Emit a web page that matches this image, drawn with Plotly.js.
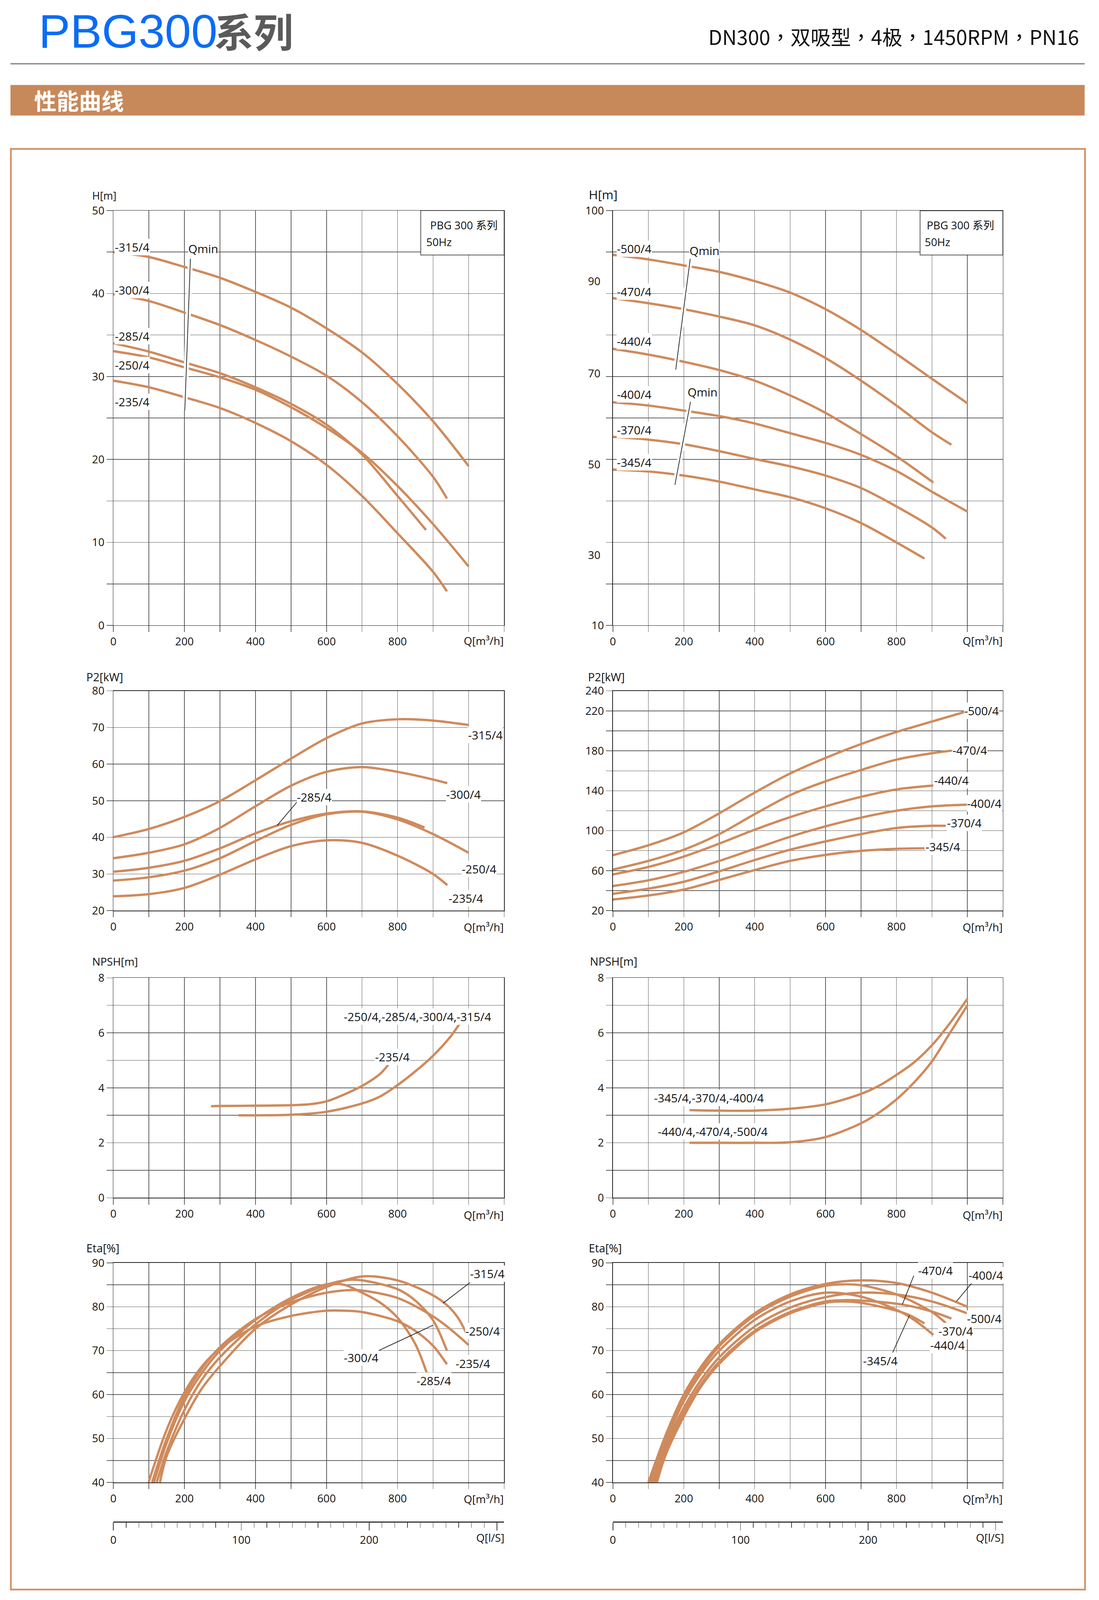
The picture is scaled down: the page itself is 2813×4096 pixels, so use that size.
<!DOCTYPE html>
<html><head><meta charset="utf-8">
<script src="https://cdn.plot.ly/plotly-3.0.1.min.js"></script>
<style>html,body{margin:0;padding:0;background:#fff;}#chart{width:2813px;height:4096px;}</style>
</head><body><div id="chart"></div>
<script>
// ---------------- DATA ----------------
const qTickVals = [0,100,200,300,400,500,600,700,800,900,1000,1100];
const qTickText = ['0','','200','','400','','600','','800','','',''];
const lsTickVals = [0,100,200,300];
const lsTickText = ['0','100','200',''];

const yValsHL = [0,5,10,15,20,25,30,35,40,45,50];
const yTextHL = ['0','','10','','20','','30','','40','','50'];
const yValsHR = [10,19,28,37,46,55,64,73,82,91,100];
const yTextHR = ['10','','','','','','','','','','100'];
const yExtraValsHR = [84.72,64.77,44.99,25.34];
const yExtraTextHR = ['90','70','50','30'];
const yValsPL = [20,30,40,50,60,70,80];
const yTextPL = ['20','30','40','50','60','70','80'];
const yValsPR = [20,40,60,80,100,120,140,160,180,200,220,240];
const yTextPR = ['20','','60','','100','','140','','180','','220','240'];
const yValsN = [0,1,2,3,4,5,6,7,8];
const yTextN = ['0','','2','','4','','6','','8'];
const yValsE = [40,45,50,55,60,65,70,75,80,85,90];
const yTextE = ['40','','50','','60','','70','','80','','90'];

// H left [m]
const hL315_q = [0,100,200,300,400,500,600,700,800,900,1000];
const hL315   = [45.0,44.4,43.2,41.9,40.2,38.3,35.8,32.9,29.1,24.6,19.2];
const hL300_q = [0,100,200,300,400,500,600,700,800,900,939];
const hL300   = [39.9,39.1,37.7,36.2,34.4,32.4,30.1,26.9,22.8,17.9,15.3];
const hL285_q = [0,100,200,300,400,500,600,700,800,880];
const hL285   = [34.0,33.0,31.7,30.4,28.7,26.7,24.2,20.6,15.6,11.5];
const hL250_q = [0,100,200,300,400,500,600,700,800,900,1000];
const hL250   = [33.05,32.3,31.1,29.9,28.4,26.3,23.8,20.8,16.8,12.2,7.1];
const hL235_q = [0,100,200,300,400,500,600,700,800,900,939];
const hL235   = [29.5,28.7,27.5,26.2,24.4,22.2,19.35,15.6,11.1,6.45,4.1];
const qminL_q = [216.8,201]; const qminL_h = [44.19,25.9];

// H right [m]
const hR500_q = [0,100,200,300,400,500,600,700,800,900,1000];
const hR500   = [90.4,89.4,88.1,86.7,84.7,82.2,78.6,74.1,68.9,63.5,58.2];
const hR470_q = [0,100,200,300,400,500,600,700,800,900,955];
const hR470   = [81.0,79.9,78.6,77.0,75.1,72.0,68.0,63.1,57.7,51.9,49.2];
const hR440_q = [0,100,200,300,400,500,600,700,800,904];
const hR440   = [70.0,68.75,67.2,65.4,63.1,59.9,56.1,51.5,46.7,41.0];
const hR400_q = [0,100,200,300,400,500,600,700,800,900,1000];
const hR400   = [58.4,57.7,56.6,55.4,53.8,51.7,49.6,47.0,43.5,39.0,34.7];
const hR370_q = [0,100,200,300,400,500,600,700,800,900,939];
const hR370   = [50.9,50.3,49.3,47.8,46.1,44.5,42.5,39.8,35.8,31.25,28.8];
const hR345_q = [0,100,200,300,400,500,600,700,800,879];
const hR345   = [43.8,43.4,42.5,41.2,39.5,37.8,35.4,32.2,28.0,24.5];
const qminR1_q = [219,177.3]; const qminR1_h = [90.03,65.5];
const qminR2_q = [219,175];   const qminR2_h = [58.5,40.5];

// P2 left [kW]
const pL315_q = [0,100,200,300,400,500,600,700,800,900,1000];
const pL315   = [40.05,42.3,45.6,49.9,55.6,61.5,67.1,71.1,72.25,71.9,70.7];
const pL300_q = [0,100,200,300,400,500,600,700,800,900,940];
const pL300   = [34.3,35.8,38.1,42.6,48.5,54.1,57.9,59.2,57.9,55.8,54.8];
const pL285_q = [0,100,200,300,400,500,600,700,800,876];
const pL285   = [30.6,31.7,33.6,37.0,41.1,44.4,46.5,47.1,45.4,42.7];
const pL250_q = [0,100,200,300,400,500,600,700,800,900,1000];
const pL250   = [28.2,29.1,30.9,34.3,39.0,43.4,46.3,47.0,44.9,40.9,35.8];
const pL235_q = [0,100,200,300,400,500,600,700,800,900,940];
const pL235   = [23.9,24.5,26.2,29.8,34.0,37.6,39.2,38.5,35.0,30.0,26.95];
const lead285_q = [519.7,461.2]; const lead285_p = [50.0,43.26];

// P2 right [kW]
const pR500_q = [0,100,200,300,400,500,600,700,800,900,1000];
const pR500   = [75.5,85.4,98.4,117.4,138.2,157.3,172.9,186.8,198.9,209.3,219.7];
const pR470_q = [0,100,200,300,400,500,600,700,800,900,955];
const pR470   = [61.1,69.75,81.0,96.6,116.6,135.6,149.5,160.8,171.2,177.6,180.2];
const pR440_q = [0,100,200,300,400,500,600,700,800,904];
const pR440   = [56.2,63.7,74.1,87.1,101.0,113.6,124.4,133.9,141.35,145.2];
const pR400_q = [0,100,200,300,400,500,600,700,800,900,1000];
const pR400   = [44.6,50.3,58.8,69.75,81.9,94.0,104.4,113.1,120.0,124.4,126.1];
const pR370_q = [0,100,200,300,400,500,600,700,800,900,939];
const pR370   = [36.8,42.0,48.9,59.35,70.6,81.0,89.3,96.6,102.7,104.9,104.9];
const pR345_q = [0,100,200,300,400,500,600,700,800,879];
const pR345   = [31.1,35.1,41.1,50.7,60.6,69.75,75.8,79.8,81.9,82.4];

// NPSH left [m]
const nL235_q = [275,300,400,500,550,600,650,700,750,774];
const nL235   = [3.33,3.34,3.35,3.37,3.40,3.51,3.76,4.07,4.5,4.84];
const nLbig_q = [352,400,500,600,700,750,800,850,900,950,978];
const nLbig   = [3.0,3.0,3.02,3.13,3.43,3.68,4.1,4.6,5.17,5.88,6.4];
// NPSH right [m]
const nRa_q = [216,300,400,500,600,700,750,800,850,900,950,1000];
const nRa   = [3.19,3.17,3.17,3.24,3.40,3.78,4.07,4.47,4.93,5.55,6.34,7.24];
const nRb_q = [216,300,400,500,600,700,750,800,850,900,950,1000];
const nRb   = [2.0,2.0,2.0,2.02,2.21,2.71,3.09,3.58,4.2,4.96,5.98,7.0];

// Eta left [%]
const eL315_q = [131,150,200,250,300,400,500,600,700,800,900,940,970,1000];
const eL315   = [40,46,54.5,61.5,66.5,75,80.5,84.5,86.9,86.0,82.6,80.3,77.5,72.9];
const eL300_q = [122,150,200,250,300,400,500,600,660,700,800,850,900,939];
const eL300   = [40,47,56.5,63.5,68.5,76,81.5,85.0,86.1,86.0,84.0,81.4,76.9,70.0];
const eL285_q = [114,150,200,250,300,400,500,600,650,700,750,800,850,882];
const eL285   = [40,49,58.5,65,70,77,82,85.1,85.0,83.2,81.0,77.5,71.5,65.0];
const eL250_q = [109,150,200,250,300,400,500,600,670,700,800,900,950,1000];
const eL250   = [40,50,59.5,66,70.8,77.2,81.0,83.2,83.8,83.7,82.0,77.8,74.8,71.3];
const eL235_q = [99,150,200,250,300,400,500,600,650,700,800,850,900,939];
const eL235   = [40,52,60.5,66.5,70.5,75.5,77.9,79.1,79.1,78.8,76.7,74.5,71.1,66.9];
const leadE315_q = [1004,928]; const leadE315_e = [85.5,80.8];
const leadE300_q = [739.7,900]; const leadE300_e = [69.75,75.8];

// Eta right [%]
const eR400_q = [100,150,200,250,300,400,500,600,700,800,900,1000];
const eR400   = [40,51,60,66.5,71.5,78.5,82.8,85.2,86.0,85.4,83.2,80.0];
const eR370_q = [104,150,200,250,300,400,500,600,650,700,800,900,939];
const eR370   = [40,50,59,65.8,71,78,82.3,84.8,85.1,84.9,82.8,78.8,76.3];
const eR500_q = [112,150,200,250,300,400,500,600,700,800,900,1000];
const eR500   = [40,48.5,57,63.5,68.5,75.5,79.8,82.2,83.2,82.8,81.2,78.5];
const eR440_q = [108,150,200,250,300,400,500,600,700,800,850,904];
const eR440   = [40,49.5,58.5,65,70,77,81.2,83.2,82.3,79.3,77,73.6];
const eR470_q = [118,150,200,250,300,400,500,600,650,700,816,900,955];
const eR470   = [40,47.5,56,62.5,67.5,74.5,78.8,81.2,81.5,81.4,80.5,78.9,77.3];
const eR345_q = [124,150,200,250,300,400,500,600,650,700,800,836,879];
const eR345   = [40,46.5,55,62,67,74.2,78.5,80.9,81.2,80.9,79.1,78.1,76.2];
const leadR470_q = [848.8,816.6]; const leadR470_e = [87.07,80.54];
const leadR400_q = [1013.3,969.2]; const leadR400_e = [85.49,81.2];
const leadR345_q = [787.1,836.8]; const leadR345_e = [69.2,78.07];

// ---------------- LAYOUT HELPERS ----------------
const S = 0.992, W = 2834, HT = 4126;
const fx = p => p / W;
const fy = p => 1 - p / HT;
const CURVE = '#CF8A5C', GRID = '#5f5f5f', FONT = 'Open Sans, Noto Sans CJK SC, sans-serif';
const XL = [292.4, 1300], XR = [1580.5, 2586];
const Y_H = [543, 1612.7], Y_P = [1781.7, 2348.2], Y_N = [2521.7, 3088.8], Y_E = [3256.5, 3822.9];
const LS_Y = 3923.6;

function xAxis(xr, anchor) {
  return {domain:[fx(xr[0]), fx(xr[1])], anchor:anchor, range:[0,1100], tickmode:'array',
    tickvals:qTickVals, ticktext:qTickText, ticks:'outside', ticklen:16*S, tickwidth:1.5*S, tickcolor:GRID,
    showgrid:true, gridcolor:GRID, gridwidth:1.5*S, showline:true, mirror:true, linecolor:'#222', linewidth:1.5*S,
    zeroline:false, tickfont:{size:28*S, color:'#111', family:FONT}, ticklabelstandoff:10*S, fixedrange:true};
}
function yAxis(yr, anchor, range, vals, text) {
  return {domain:[fy(yr[1]), fy(yr[0])], anchor:anchor, range:range, tickmode:'array',
    tickvals:vals, ticktext:text, ticks:'outside', ticklen:16*S, tickwidth:1.5*S, tickcolor:GRID,
    showgrid:true, gridcolor:GRID, gridwidth:1.5*S, showline:true, mirror:true, linecolor:'#222', linewidth:1.5*S,
    zeroline:false, tickfont:{size:28*S, color:'#111', family:FONT}, ticklabelstandoff:12*S, fixedrange:true};
}
function lsAxis(xr, anchor) {
  return {domain:[fx(xr[0]), fx(xr[1])], anchor:anchor, range:[0,1100/3.6], tickmode:'array',
    tickvals:lsTickVals, ticktext:lsTickText, ticks:'outside', ticklen:21*S, tickwidth:1.5*S, tickcolor:'#333',
    showgrid:false, showline:true, linecolor:'#333', linewidth:2.5*S, zeroline:false,
    minor:{tickmode:'linear', tick0:0, dtick:10, ticks:'outside', ticklen:14*S, tickwidth:1.2*S, tickcolor:'#444', showgrid:false},
    tickfont:{size:28*S, color:'#111', family:FONT}, ticklabelstandoff:10*S, fixedrange:true};
}
function lsY() { return {domain:[fy(LS_Y), fy(LS_Y)+0.003], range:[0,1], visible:false, fixedrange:true}; }

const traces = [];
function curve(q, v, ax) {
  traces.push({type:'scatter', mode:'lines', x:q, y:v, xaxis:'x'+ax, yaxis:'y'+ax,
    line:{color:CURVE, width:6*S, shape:'spline', smoothing:0.9}, hoverinfo:'skip'});
}
function thin(q, v, ax, gap) {
  if (gap) traces.push({type:'scatter', mode:'lines', x:q, y:v, xaxis:'x'+ax, yaxis:'y'+ax,
    line:{color:'#ffffff', width:13*S}, hoverinfo:'skip'});
  traces.push({type:'scatter', mode:'lines', x:q, y:v, xaxis:'x'+ax, yaxis:'y'+ax,
    line:{color:'#111', width:1.7*S}, hoverinfo:'skip'});
}

// subplot 1: H left
[[hL315_q,hL315],[hL300_q,hL300],[hL285_q,hL285],[hL250_q,hL250],[hL235_q,hL235]].forEach(s=>curve(s[0],s[1],''));
thin(qminL_q, qminL_h, '', true);
// subplot 2: H right
[[hR500_q,hR500],[hR470_q,hR470],[hR440_q,hR440],[hR400_q,hR400],[hR370_q,hR370],[hR345_q,hR345]].forEach(s=>curve(s[0],s[1],'2'));
thin(qminR1_q, qminR1_h, '2', true);
thin(qminR2_q, qminR2_h, '2', true);
// subplot 3: P2 left
[[pL315_q,pL315],[pL300_q,pL300],[pL285_q,pL285],[pL250_q,pL250],[pL235_q,pL235]].forEach(s=>curve(s[0],s[1],'3'));
thin(lead285_q, lead285_p, '3', false);
// subplot 4: P2 right
[[pR500_q,pR500],[pR470_q,pR470],[pR440_q,pR440],[pR400_q,pR400],[pR370_q,pR370],[pR345_q,pR345]].forEach(s=>curve(s[0],s[1],'4'));
// subplot 5/6: NPSH
curve(nL235_q, nL235, '5'); curve(nLbig_q, nLbig, '5');
curve(nRa_q, nRa, '6'); curve(nRb_q, nRb, '6');
// subplot 7: Eta left
[[eL315_q,eL315],[eL300_q,eL300],[eL285_q,eL285],[eL250_q,eL250],[eL235_q,eL235]].forEach(s=>curve(s[0],s[1],'7'));
thin(leadE315_q, leadE315_e, '7', false);
thin(leadE300_q, leadE300_e, '7', false);
// subplot 8: Eta right
[[eR400_q,eR400],[eR370_q,eR370],[eR500_q,eR500],[eR440_q,eR440],[eR470_q,eR470],[eR345_q,eR345]].forEach(s=>curve(s[0],s[1],'8'));
thin(leadR470_q, leadR470_e, '8', false);
thin(leadR400_q, leadR400_e, '8', false);
thin(leadR345_q, leadR345_e, '8', false);
// l/s axes (empty traces register the subplots)
traces.push({type:'scatter', x:[], y:[], xaxis:'x9', yaxis:'y9', hoverinfo:'skip'});
traces.push({type:'scatter', x:[], y:[], xaxis:'x10', yaxis:'y10', hoverinfo:'skip'});

// ---------------- ANNOTATIONS ----------------
const anns = [];
function A(text, x, y, o) {
  const a = {text:text, x:fx(x), y:fy(y), xref:'paper', yref:'paper', showarrow:false, xanchor:'left', yanchor:'middle',
    font:{size:30*S, color:'#111', family:FONT}, borderpad:0};
  Object.assign(a, o || {});
  anns.push(a);
}
const WB = {bgcolor:'#ffffff'};
// header
A('PBG300', 99, 81, {font:{size:122*S, color:'#0a6cf5', family:'Liberation Sans, Arial, sans-serif'}});
A('<b>系列</b>', 551, 78, {font:{size:102*S, color:'#5a5a5a', family:'Noto Sans CJK SC'}});
A('DN300，双吸型，4极，1450RPM，PN16', 2784, 93, {xanchor:'right', font:{size:52*S, color:'#111', family:'Noto Sans CJK TC'}});
A('<b>性能曲线</b>', 87, 258, {font:{size:58*S, color:'#ffffff', family:'Noto Sans CJK SC'}});

// axis titles
A('H[m]', 237, 504, {font:{size:27*S, color:'#111', family:FONT}});
A('H[m]', 1517, 501, {font:{size:32*S, color:'#111', family:FONT}});
A('P2[kW]', 222, 1745, {font:{size:29*S, color:'#111', family:FONT}});
A('P2[kW]', 1515, 1745, {font:{size:29*S, color:'#111', family:FONT}});
A('NPSH[m]', 237, 2479, {font:{size:28*S, color:'#111', family:FONT}});
A('NPSH[m]', 1520, 2479, {font:{size:29*S, color:'#111', family:FONT}});
A('Eta[%]', 222, 3218, {font:{size:29*S, color:'#111', family:FONT}});
A('Eta[%]', 1517, 3218, {font:{size:29*S, color:'#111', family:FONT}});

// Q axis end labels
[[Y_H[1]+39],[Y_P[1]+42],[Y_N[1]+44],[Y_E[1]+42]].forEach(r=>{
  A('Q[m³/h]', XL[1], r[0], {xanchor:'right', font:{size:28*S, color:'#111', family:FONT}});
  A('Q[m³/h]', XR[1], r[0], {xanchor:'right', font:{size:28*S, color:'#111', family:FONT}});
});
A('Q[l/S]', 1302, LS_Y+41, {xanchor:'right', font:{size:28*S, color:'#111', family:FONT}});
A('Q[l/S]', 2590, LS_Y+41, {xanchor:'right', font:{size:28*S, color:'#111', family:FONT}});

// right H extra tick labels (drawn off-grid in the original)
yExtraValsHR.forEach((v,i)=>{
  anns.push({text:yExtraTextHR[i], x:fx(1550), xref:'paper', y:v, yref:'y2', showarrow:false, xanchor:'right', yanchor:'middle',
    font:{size:28*S, color:'#111', family:FONT}});
});

// info boxes text
A('PBG 300 系列', 1108, 580, {font:{size:28*S, color:'#111', family:FONT}});
A('50Hz', 1098, 624, {font:{size:28*S, color:'#111', family:FONT}});
A('PBG 300 系列', 2389, 580, {font:{size:28*S, color:'#111', family:FONT}});
A('50Hz', 2383.5, 624, {font:{size:28*S, color:'#111', family:FONT}});

// H left labels
A('-315/4', 295, 637, WB); A('-300/4', 295, 748, WB); A('-285/4', 295, 866.5, WB);
A('-250/4', 295, 941.5, WB); A('-235/4', 295, 1035.6, WB); A('Qmin', 485, 641.5, WB);
// H right labels
A('-500/4', 1590, 641.5, WB); A('-470/4', 1590, 751.7, WB); A('-440/4', 1590, 879.5, WB);
A('-400/4', 1590, 1017, WB); A('-370/4', 1590, 1109, WB); A('-345/4', 1590, 1191.7, WB);
A('Qmin', 1777, 646, WB); A('Qmin', 1772, 1011, WB);
// P2 left labels
A('-315/4', 1206, 1895.5, WB); A('-300/4', 1150, 2048, WB); A('-285/4', 765, 2055, WB);
A('-250/4', 1190, 2241, WB); A('-235/4', 1156, 2316, WB);
// P2 right labels
A('-500/4', 2485, 1833, WB); A('-470/4', 2455, 1935, WB); A('-440/4', 2408, 2012.5, WB);
A('-400/4', 2492, 2071.4, WB); A('-370/4', 2441, 2122, WB); A('-345/4', 2386, 2183, WB);
// NPSH labels
A('-250/4,-285/4,-300/4,-315/4', 886, 2622, WB); A('-235/4', 966, 2725, WB);
A('-345/4,-370/4,-400/4', 1685, 2831, WB); A('-440/4,-470/4,-500/4', 1696, 2918, WB);
// Eta left labels
A('-315/4', 1211, 3284.6, WB); A('-250/4', 1199, 3432.5, WB); A('-300/4', 886, 3501.4, WB);
A('-235/4', 1174, 3515.7, WB); A('-285/4', 1073, 3560, WB);
// Eta right labels
A('-470/4', 2367, 3276, WB); A('-400/4', 2496, 3288.7, WB); A('-500/4', 2492, 3400.4, WB);
A('-370/4', 2419, 3432.6, WB); A('-440/4', 2398, 3468.3, WB); A('-345/4', 2224, 3509, WB);

// ---------------- SHAPES ----------------
const shapes = [];
function R(x0,y0,x1,y1,o) { shapes.push(Object.assign({type:'rect', xref:'paper', yref:'paper', x0:fx(x0), x1:fx(x1), y0:fy(y1), y1:fy(y0), layer:'above'}, o)); }
function L(x0,y0,x1,y1,o) { shapes.push(Object.assign({type:'line', xref:'paper', yref:'paper', x0:fx(x0), x1:fx(x1), y0:fy(y0), y1:fy(y1), layer:'above'}, o)); }
L(27, 164.5, 2797, 164.5, {line:{color:'#8a8a8a', width:3.5*S}});
R(27, 219, 2797, 298, {fillcolor:'#C8895A', line:{width:0}});
R(28, 384, 2798, 4099, {fillcolor:'rgba(0,0,0,0)', line:{color:'#D4916A', width:4.5*S}, layer:'below'});
R(1085, 543, 1300, 657.5, {fillcolor:'#ffffff', line:{color:'#222', width:1.5*S}});
R(2372.6, 543.5, 2586, 657.5, {fillcolor:'#ffffff', line:{color:'#222', width:1.5*S}});

// ---------------- LAYOUT ----------------
const layout = {
  width: 2813, height: 4096, margin:{l:0,r:0,t:0,b:0}, showlegend:false,
  paper_bgcolor:'#ffffff', plot_bgcolor:'rgba(0,0,0,0)', font:{family:FONT, size:28*S, color:'#111'},
  xaxis: xAxis(XL,'y'),   yaxis: yAxis(Y_H,'x',[0,50], yValsHL, yTextHL),
  xaxis2: xAxis(XR,'y2'), yaxis2: yAxis(Y_H,'x2',[10,100], yValsHR, yTextHR),
  xaxis3: xAxis(XL,'y3'), yaxis3: yAxis(Y_P,'x3',[20,80], yValsPL, yTextPL),
  xaxis4: xAxis(XR,'y4'), yaxis4: yAxis(Y_P,'x4',[20,240], yValsPR, yTextPR),
  xaxis5: xAxis(XL,'y5'), yaxis5: yAxis(Y_N,'x5',[0,8], yValsN, yTextN),
  xaxis6: xAxis(XR,'y6'), yaxis6: yAxis(Y_N,'x6',[0,8], yValsN, yTextN),
  xaxis7: xAxis(XL,'y7'), yaxis7: yAxis(Y_E,'x7',[40,90], yValsE, yTextE),
  xaxis8: xAxis(XR,'y8'), yaxis8: yAxis(Y_E,'x8',[40,90], yValsE, yTextE),
  xaxis9: lsAxis(XL,'y9'), yaxis9: lsY(),
  xaxis10: lsAxis(XR,'y10'), yaxis10: lsY(),
  annotations: anns, shapes: shapes
};
Plotly.newPlot('chart', traces, layout, {staticPlot:true, displayModeBar:false});
</script></body></html>
